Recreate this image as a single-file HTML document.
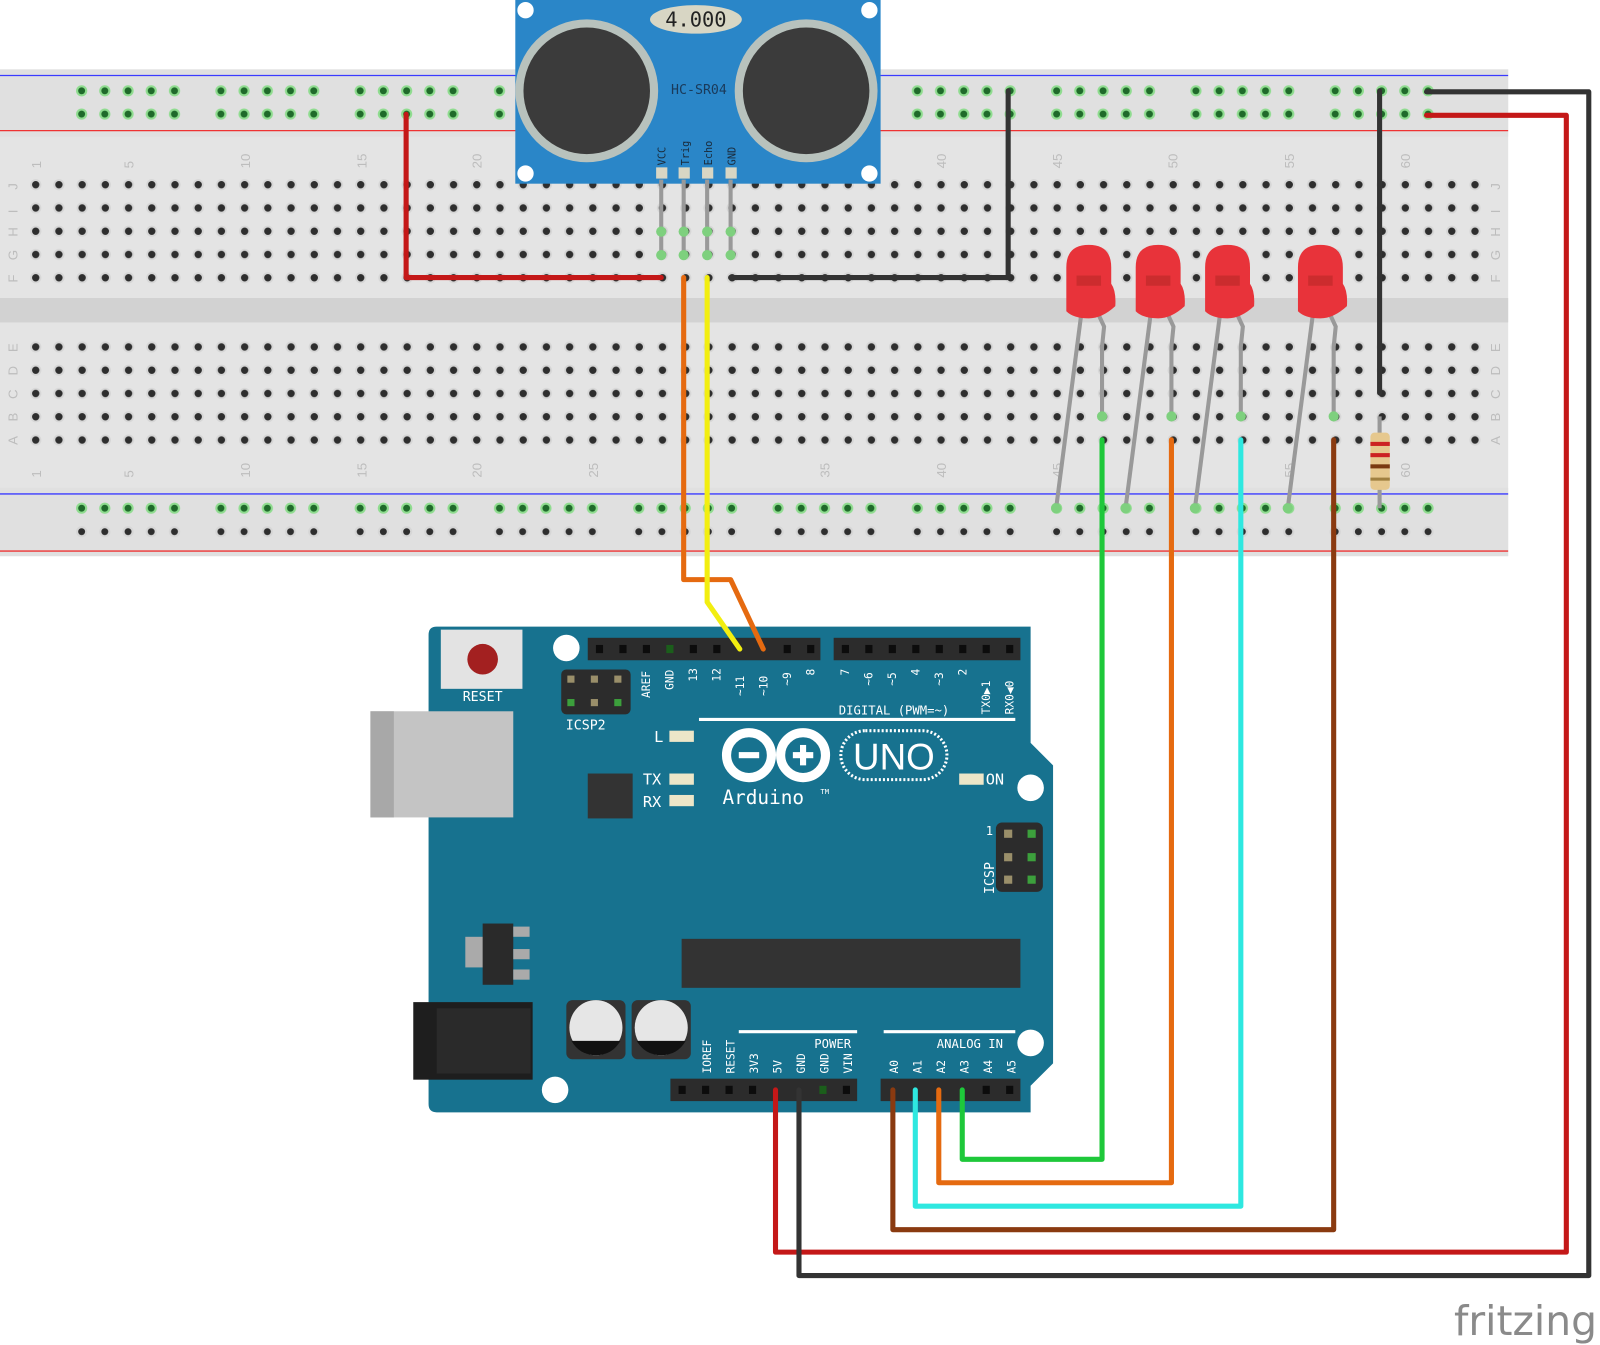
<!DOCTYPE html>
<html><head><meta charset="utf-8">
<style>html,body{margin:0;padding:0;background:#fff;}svg{display:block;}</style>
</head><body>
<svg width="1600" height="1345" viewBox="0 0 1568 1318" preserveAspectRatio="none" xmlns="http://www.w3.org/2000/svg" font-family="'DejaVu Sans Mono','Liberation Mono',monospace">
<defs>
<pattern id="holes" x="23.6" y="169.6" width="22.75" height="22.8" patternUnits="userSpaceOnUse">
<circle cx="11.4" cy="11.4" r="5.5" fill="#d6d6d6"/><circle cx="11.4" cy="11.4" r="3.6" fill="#2e2e2e"/>
</pattern>
<pattern id="holes2" x="23.6" y="328.6" width="22.75" height="22.8" patternUnits="userSpaceOnUse">
<circle cx="11.4" cy="11.4" r="5.5" fill="#d6d6d6"/><circle cx="11.4" cy="11.4" r="3.6" fill="#2e2e2e"/>
</pattern>
<pattern id="railg" x="68.6" y="77.6" width="136.5" height="22.8" patternUnits="userSpaceOnUse">
<g fill="#8fdc8f"><circle cx="11.4" cy="11.4" r="5.5"/><circle cx="34.1" cy="11.4" r="5.5"/><circle cx="56.9" cy="11.4" r="5.5"/><circle cx="79.6" cy="11.4" r="5.5"/><circle cx="102.4" cy="11.4" r="5.5"/></g>
<g fill="#1f6a2a"><circle cx="11.4" cy="11.4" r="3.4"/><circle cx="34.1" cy="11.4" r="3.4"/><circle cx="56.9" cy="11.4" r="3.4"/><circle cx="79.6" cy="11.4" r="3.4"/><circle cx="102.4" cy="11.4" r="3.4"/></g>
</pattern>
<pattern id="railb" x="68.6" y="509.6" width="136.5" height="22.8" patternUnits="userSpaceOnUse">
<g fill="#d6d6d6"><circle cx="11.4" cy="11.4" r="5.5"/><circle cx="34.1" cy="11.4" r="5.5"/><circle cx="56.9" cy="11.4" r="5.5"/><circle cx="79.6" cy="11.4" r="5.5"/><circle cx="102.4" cy="11.4" r="5.5"/></g>
<g fill="#2e2e2e"><circle cx="11.4" cy="11.4" r="3.4"/><circle cx="34.1" cy="11.4" r="3.4"/><circle cx="56.9" cy="11.4" r="3.4"/><circle cx="79.6" cy="11.4" r="3.4"/><circle cx="102.4" cy="11.4" r="3.4"/></g>
</pattern>
<pattern id="railg2" x="68.6" y="486.6" width="136.5" height="22.8" patternUnits="userSpaceOnUse">
<g fill="#8fdc8f"><circle cx="11.4" cy="11.4" r="5.5"/><circle cx="34.1" cy="11.4" r="5.5"/><circle cx="56.9" cy="11.4" r="5.5"/><circle cx="79.6" cy="11.4" r="5.5"/><circle cx="102.4" cy="11.4" r="5.5"/></g>
<g fill="#1f6a2a"><circle cx="11.4" cy="11.4" r="3.4"/><circle cx="34.1" cy="11.4" r="3.4"/><circle cx="56.9" cy="11.4" r="3.4"/><circle cx="79.6" cy="11.4" r="3.4"/><circle cx="102.4" cy="11.4" r="3.4"/></g>
</pattern>
</defs>

<!-- Breadboard -->
<rect x="0" y="68" width="1478" height="477" fill="#e4e4e4"/>
<rect x="0" y="68" width="1478" height="66" fill="#e0e0e0"/>
<rect x="0" y="292" width="1478" height="24" fill="#d2d2d2"/>
<rect x="0" y="478" width="1478" height="67" fill="#e0e0e0"/>
<line x1="0" y1="74" x2="1478" y2="74" stroke="#3a3aff" stroke-width="1.3"/>
<line x1="0" y1="128" x2="1478" y2="128" stroke="#e33" stroke-width="1.3"/>
<line x1="0" y1="484" x2="1478" y2="484" stroke="#3a3aff" stroke-width="1.3"/>
<line x1="0" y1="540" x2="1478" y2="540" stroke="#e33" stroke-width="1.3"/>
<rect x="68.6" y="77.6" width="1341" height="45.6" fill="url(#railg)"/>
<rect x="68.6" y="486.6" width="1341" height="22.8" fill="url(#railg2)"/>
<rect x="68.6" y="509.6" width="1341" height="22.8" fill="url(#railb)"/>
<rect x="23.6" y="169.6" width="1433.3" height="114" fill="url(#holes)"/>
<rect x="23.6" y="328.6" width="1433.3" height="114" fill="url(#holes2)"/>
<g fill="#bdbdbd" font-size="13" font-family="'Liberation Sans',sans-serif">
<text transform="translate(40,165) rotate(-90)">1</text><text transform="translate(131,165) rotate(-90)">5</text>
<text transform="translate(245,165) rotate(-90)">10</text><text transform="translate(359,165) rotate(-90)">15</text>
<text transform="translate(472,165) rotate(-90)">20</text><text transform="translate(927,165) rotate(-90)">40</text>
<text transform="translate(1041,165) rotate(-90)">45</text><text transform="translate(1154,165) rotate(-90)">50</text>
<text transform="translate(1268,165) rotate(-90)">55</text><text transform="translate(1382,165) rotate(-90)">60</text>
<text transform="translate(40,468) rotate(-90)">1</text><text transform="translate(131,468) rotate(-90)">5</text>
<text transform="translate(245,468) rotate(-90)">10</text><text transform="translate(359,468) rotate(-90)">15</text>
<text transform="translate(472,468) rotate(-90)">20</text><text transform="translate(586,468) rotate(-90)">25</text>
<text transform="translate(813,468) rotate(-90)">35</text><text transform="translate(927,468) rotate(-90)">40</text>
<text transform="translate(1041,468) rotate(-90)">45</text><text transform="translate(1268,468) rotate(-90)">55</text>
<text transform="translate(1382,468) rotate(-90)">60</text>
<text transform="translate(17,186) rotate(-90)">J</text><text transform="translate(17,209) rotate(-90)">I</text>
<text transform="translate(17,232) rotate(-90)">H</text><text transform="translate(17,255) rotate(-90)">G</text>
<text transform="translate(17,277) rotate(-90)">F</text><text transform="translate(17,345) rotate(-90)">E</text>
<text transform="translate(17,368) rotate(-90)">D</text><text transform="translate(17,391) rotate(-90)">C</text>
<text transform="translate(17,413) rotate(-90)">B</text><text transform="translate(17,436) rotate(-90)">A</text>
<text transform="translate(1470,186) rotate(-90)">J</text><text transform="translate(1470,209) rotate(-90)">I</text>
<text transform="translate(1470,232) rotate(-90)">H</text><text transform="translate(1470,255) rotate(-90)">G</text>
<text transform="translate(1470,277) rotate(-90)">F</text><text transform="translate(1470,345) rotate(-90)">E</text>
<text transform="translate(1470,368) rotate(-90)">D</text><text transform="translate(1470,391) rotate(-90)">C</text>
<text transform="translate(1470,413) rotate(-90)">B</text><text transform="translate(1470,436) rotate(-90)">A</text>
</g>

<!-- HC-SR04 -->
<rect x="505" y="0" width="358" height="180" fill="#2a86c8"/>
<circle cx="515" cy="10" r="8" fill="#fff"/><circle cx="852" cy="10" r="8" fill="#fff"/>
<circle cx="515" cy="170" r="8" fill="#fff"/><circle cx="852" cy="170" r="8" fill="#fff"/>
<circle cx="575" cy="89" r="70" fill="#b8c2bd"/><circle cx="575" cy="89" r="62" fill="#3b3b3b"/>
<circle cx="790" cy="89" r="70" fill="#b8c2bd"/><circle cx="790" cy="89" r="62" fill="#3b3b3b"/>
<ellipse cx="682" cy="19" rx="45" ry="14" fill="#d8d6c4"/>
<text x="682" y="26" text-anchor="middle" font-size="20" fill="#222">4.000</text>
<text x="685" y="92" text-anchor="middle" font-size="13" fill="#1a3a5a">HC-SR04</text>
<g font-size="10" fill="#1a2a3a">
<text transform="translate(652,162) rotate(-90)">VCC</text><text transform="translate(675,162) rotate(-90)">Trig</text>
<text transform="translate(698,162) rotate(-90)">Echo</text><text transform="translate(721,162) rotate(-90)">GND</text>
</g>
<g fill="#d8d6c4"><rect x="643" y="164" width="11" height="11"/><rect x="665" y="164" width="11" height="11"/><rect x="688" y="164" width="11" height="11"/><rect x="711" y="164" width="11" height="11"/></g>
<g stroke="#999" stroke-width="4"><line x1="648" y1="176" x2="648" y2="250"/><line x1="670" y1="176" x2="670" y2="250"/><line x1="693" y1="176" x2="693" y2="250"/><line x1="716" y1="176" x2="716" y2="250"/></g>
<g fill="#7ed07e"><circle cx="648" cy="227" r="5"/><circle cx="670" cy="227" r="5"/><circle cx="693" cy="227" r="5"/><circle cx="716" cy="227" r="5"/><circle cx="648" cy="250" r="5"/><circle cx="670" cy="250" r="5"/><circle cx="693" cy="250" r="5"/><circle cx="716" cy="250" r="5"/></g>

<!-- Arduino -->
<path d="M428,614 L1010,614 L1010,728 L1032,750 L1032,1042 L1010,1064 L1010,1090 L428,1090 Q420,1090 420,1082 L420,622 Q420,614 428,614 Z" fill="#17728f"/>
<rect x="432" y="617" width="80" height="58" fill="#e3e3e3"/>
<circle cx="473" cy="646" r="15" fill="#a32020"/>
<text x="473" y="687" text-anchor="middle" font-size="13" fill="#fff">RESET</text>
<circle cx="555" cy="635" r="13" fill="#fff"/>
<circle cx="1010" cy="772" r="13" fill="#fff"/><circle cx="1010" cy="1022" r="13" fill="#fff"/><circle cx="544" cy="1068" r="13" fill="#fff"/>
<g fill="#2c2c2c"><rect x="550" y="656" width="68" height="44" rx="5"/></g>
<g fill="#9a8f6a"><rect x="556" y="662" width="7" height="7"/><rect x="579" y="662" width="7" height="7"/><rect x="602" y="662" width="7" height="7"/><rect x="579" y="685" width="7" height="7"/></g>
<g fill="#3ca03c"><rect x="556" y="685" width="7" height="7"/><rect x="602" y="685" width="7" height="7"/></g>
<text x="574" y="715" text-anchor="middle" font-size="13" fill="#fff">ICSP2</text>
<rect x="363" y="697" width="140" height="104" fill="#c4c4c4"/>
<rect x="363" y="697" width="23" height="104" fill="#a8a8a8"/>
<rect x="576" y="758" width="44" height="44" fill="#333"/>
<rect x="668" y="920" width="332" height="48" fill="#333"/>
<rect x="456" y="918" width="20" height="30" fill="#aaa"/><rect x="473" y="905" width="30" height="60" fill="#2a2a2a"/>
<g fill="#aaa"><rect x="503" y="908" width="16" height="10"/><rect x="503" y="930" width="16" height="10"/><rect x="503" y="950" width="16" height="10"/></g>
<rect x="405" y="982" width="117" height="76" fill="#1e1e1e"/><rect x="428" y="988" width="92" height="64" fill="#2a2a2a"/>
<rect x="555" y="980" width="58" height="58" rx="6" fill="#333"/><rect x="619" y="980" width="58" height="58" rx="6" fill="#333"/>
<ellipse cx="584" cy="1007" rx="26" ry="27" fill="#e6e6e6"/><ellipse cx="648" cy="1007" rx="26" ry="27" fill="#e6e6e6"/>
<path d="M560,1020 L608,1020 Q600,1034 584,1034 Q568,1034 560,1020Z" fill="#111"/>
<path d="M624,1020 L672,1020 Q664,1034 648,1034 Q632,1034 624,1020Z" fill="#111"/>
<!-- headers -->
<g fill="#2c2c2c"><rect x="576" y="625" width="228" height="22"/><rect x="817" y="625" width="183" height="22"/><rect x="657" y="1057" width="183" height="22"/><rect x="863" y="1057" width="137" height="22"/></g>
<g fill="#0c0c0c">
<rect x="584" y="632" width="7" height="8"/><rect x="607" y="632" width="7" height="8"/><rect x="630" y="632" width="7" height="8"/><rect x="676" y="632" width="7" height="8"/><rect x="699" y="632" width="7" height="8"/><rect x="768" y="632" width="7" height="8"/><rect x="791" y="632" width="7" height="8"/>
<rect x="825" y="632" width="7" height="8"/><rect x="848" y="632" width="7" height="8"/><rect x="871" y="632" width="7" height="8"/><rect x="894" y="632" width="7" height="8"/><rect x="917" y="632" width="7" height="8"/><rect x="940" y="632" width="7" height="8"/><rect x="963" y="632" width="7" height="8"/><rect x="986" y="632" width="7" height="8"/>
<rect x="665" y="1064" width="7" height="8"/><rect x="688" y="1064" width="7" height="8"/><rect x="711" y="1064" width="7" height="8"/><rect x="734" y="1064" width="7" height="8"/><rect x="826" y="1064" width="7" height="8"/>
<rect x="963" y="1064" width="7" height="8"/><rect x="986" y="1064" width="7" height="8"/>
</g>
<rect x="653" y="632" width="7" height="8" fill="#1b5e1b"/><rect x="803" y="1064" width="7" height="8" fill="#1b5e1b"/>
<g font-size="11" fill="#fff">
<text transform="translate(637,684) rotate(-90)">AREF</text><text transform="translate(660,676) rotate(-90)">GND</text>
<text transform="translate(683,668) rotate(-90)">13</text><text transform="translate(706,668) rotate(-90)">12</text>
<text transform="translate(729,682) rotate(-90)">~11</text><text transform="translate(752,682) rotate(-90)">~10</text>
<text transform="translate(775,672) rotate(-90)">~9</text><text transform="translate(798,662) rotate(-90)">8</text>
<text transform="translate(832,662) rotate(-90)">7</text><text transform="translate(855,672) rotate(-90)">~6</text>
<text transform="translate(878,672) rotate(-90)">~5</text><text transform="translate(901,662) rotate(-90)">4</text>
<text transform="translate(924,672) rotate(-90)">~3</text><text transform="translate(947,662) rotate(-90)">2</text>
<text transform="translate(970,700) rotate(-90)">TX0▶1</text><text transform="translate(993,700) rotate(-90)">RX0◀0</text>
<text x="822" y="700" font-size="12">DIGITAL (PWM=~)</text>
<text transform="translate(697,1052) rotate(-90)">IOREF</text><text transform="translate(720,1052) rotate(-90)">RESET</text>
<text transform="translate(743,1052) rotate(-90)">3V3</text><text transform="translate(766,1052) rotate(-90)">5V</text>
<text transform="translate(789,1052) rotate(-90)">GND</text><text transform="translate(812,1052) rotate(-90)">GND</text>
<text transform="translate(835,1052) rotate(-90)">VIN</text>
<text transform="translate(880,1052) rotate(-90)">A0</text><text transform="translate(903,1052) rotate(-90)">A1</text>
<text transform="translate(926,1052) rotate(-90)">A2</text><text transform="translate(949,1052) rotate(-90)">A3</text>
<text transform="translate(972,1052) rotate(-90)">A4</text><text transform="translate(995,1052) rotate(-90)">A5</text>
<text x="798" y="1027" font-size="12">POWER</text><text x="918" y="1027" font-size="12">ANALOG IN</text>
</g>
<g stroke="#fff" stroke-width="3"><line x1="685" y1="705" x2="995" y2="705"/><line x1="724" y1="1011" x2="840" y2="1011"/><line x1="866" y1="1011" x2="995" y2="1011"/></g>
<g font-size="15" fill="#fff"><text x="641" y="727">L</text><text x="630" y="769">TX</text><text x="630" y="791">RX</text><text x="966" y="769">ON</text></g>
<g fill="#ede6c8"><rect x="656" y="716" width="24" height="11"/><rect x="656" y="758" width="24" height="11"/><rect x="656" y="779" width="24" height="11"/><rect x="940" y="758" width="24" height="11"/></g>
<!-- logo -->
<circle cx="734" cy="740" r="22" fill="none" stroke="#fff" stroke-width="9"/><circle cx="787" cy="740" r="22" fill="none" stroke="#fff" stroke-width="9"/>
<rect x="724" y="737" width="20" height="6" fill="#fff"/><rect x="777" y="737" width="20" height="6" fill="#fff"/><rect x="784" y="730" width="6" height="20" fill="#fff"/>
<rect x="824" y="716" width="104" height="48" rx="24" fill="none" stroke="#fff" stroke-width="3" stroke-dasharray="2 2"/>
<text x="876" y="754" text-anchor="middle" font-size="36" fill="#fff" font-family="'Liberation Sans',sans-serif">UNO</text>
<text x="708" y="788" font-size="19" fill="#fff">Arduino</text><text x="804" y="778" font-size="7" fill="#fff">TM</text>
<!-- ICSP -->
<rect x="976" y="806" width="46" height="68" rx="6" fill="#2c2c2c"/>
<g fill="#9a8f6a"><rect x="984" y="813" width="8" height="8"/><rect x="984" y="836" width="8" height="8"/><rect x="984" y="858" width="8" height="8"/></g>
<g fill="#3ca03c"><rect x="1007" y="813" width="8" height="8"/><rect x="1007" y="836" width="8" height="8"/><rect x="1007" y="858" width="8" height="8"/></g>
<text x="966" y="818" font-size="12" fill="#fff">1</text>
<text transform="translate(974,876) rotate(-90)" font-size="13" fill="#fff">ICSP</text>

<!-- LEDs -->
<g stroke="#999" stroke-width="4" fill="none">
<line x1="1060" y1="305" x2="1035" y2="498"/><polyline points="1075,305 1082,320 1080,340 1080,408"/>
<line x1="1128" y1="305" x2="1103" y2="498"/><polyline points="1143,305 1150,320 1148,340 1148,408"/>
<line x1="1196" y1="305" x2="1171" y2="498"/><polyline points="1211,305 1218,320 1216,340 1216,408"/>
<line x1="1287" y1="305" x2="1262" y2="498"/><polyline points="1302,305 1309,320 1307,340 1307,408"/>
</g>
<g fill="#7ed07e"><circle cx="1035" cy="498" r="5"/><circle cx="1103" cy="498" r="5"/><circle cx="1171" cy="498" r="5"/><circle cx="1262" cy="498" r="5"/><circle cx="1080" cy="408" r="5"/><circle cx="1148" cy="408" r="5"/><circle cx="1216" cy="408" r="5"/><circle cx="1307" cy="408" r="5"/></g>
<g fill="#e8333a">
<path d="M1045,305 L1045,262 Q1045,240 1067,240 Q1089,240 1089,262 L1089,278 Q1094,285 1093,300 Q1080,312 1067,312 Q1052,312 1045,305Z"/>
<path d="M1113,305 L1113,262 Q1113,240 1135,240 Q1157,240 1157,262 L1157,278 Q1162,285 1161,300 Q1148,312 1135,312 Q1120,312 1113,305Z"/>
<path d="M1181,305 L1181,262 Q1181,240 1203,240 Q1225,240 1225,262 L1225,278 Q1230,285 1229,300 Q1216,312 1203,312 Q1188,312 1181,305Z"/>
<path d="M1272,305 L1272,262 Q1272,240 1294,240 Q1316,240 1316,262 L1316,278 Q1321,285 1320,300 Q1307,312 1294,312 Q1279,312 1272,305Z"/>
</g>
<g fill="#c02a2a" opacity="0.7"><rect x="1055" y="270" width="24" height="10"/><rect x="1123" y="270" width="24" height="10"/><rect x="1191" y="270" width="24" height="10"/><rect x="1282" y="270" width="24" height="10"/></g>
<!-- resistor -->
<line x1="1352" y1="408" x2="1352" y2="498" stroke="#999" stroke-width="4"/>
<rect x="1343" y="424" width="19" height="56" rx="4" fill="#e6c88e"/>
<g fill="#c22"><rect x="1343" y="433" width="19" height="4"/><rect x="1343" y="444" width="19" height="4"/></g>
<rect x="1343" y="455" width="19" height="4" fill="#7a3a10"/><rect x="1343" y="468" width="19" height="3" fill="#a08040"/>

<!-- Wires -->
<g fill="none" stroke-width="5" stroke-linejoin="round" stroke-linecap="round">
<polyline points="398,112 398,272 648,272" stroke="#c41818"/>
<polyline points="716,272 988,272 988,89" stroke="#333"/>
<polyline points="670,272 670,568 716,568 748,636" stroke="#e56a10"/>
<polyline points="693,272 693,590 725,636" stroke="#f2ee10"/>
<polyline points="1352,89 1352,385" stroke="#333"/>
<polyline points="1080,431 1080,1136 943,1136 943,1068" stroke="#1ec83a"/>
<polyline points="1148,431 1148,1159 920,1159 920,1068" stroke="#e56a10"/>
<polyline points="1216,431 1216,1182 897,1182 897,1068" stroke="#2ee8e0"/>
<polyline points="1307,431 1307,1205 875,1205 875,1068" stroke="#8a3a10"/>
<polyline points="760,1068 760,1227 1535,1227 1535,113 1398,113" stroke="#c41818"/>
<polyline points="783,1068 783,1250 1557,1250 1557,90 1398,90" stroke="#333"/>
</g>
<text x="1495" y="1308" text-anchor="middle" font-size="40" fill="#8a8a8a" font-family="'DejaVu Sans',sans-serif">fritzing</text>
</svg>
</body></html>
